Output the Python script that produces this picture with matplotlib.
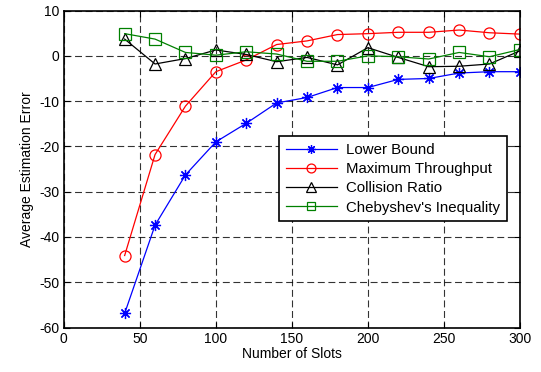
import numpy as np
import matplotlib
matplotlib.use('Agg')
import matplotlib.pyplot as plt

plt.rcParams['font.family'] = ['Liberation Sans', 'DejaVu Sans']
plt.rcParams['axes.unicode_minus'] = False
plt.rcParams['lines.scale_dashes'] = False

# Estimation error per frame size
slots = [40, 60, 80, 100, 120, 140, 160, 180, 200, 220, 240, 260, 280, 300]
lower_bound = [-56.9, -37.4, -26.3, -19.0, -14.9, -10.4, -9.2, -7.0, -7.0, -5.2, -5.0, -3.8, -3.5, -3.5]
max_throughput = [-44.1, -21.8, -11.1, -3.5, -0.9, 2.5, 3.3, 4.7, 4.9, 5.2, 5.2, 5.7, 5.1, 4.8]
collision_ratio = [3.7, -1.8, -0.6, 1.3, 0.3, -1.3, -0.35, -2.0, 1.8, -0.35, -2.4, -2.3, -1.8, 1.1]
chebyshev = [4.9, 3.7, 0.75, 0.15, 0.9, 0.4, -1.2, -1.2, 0.0, -0.2, -0.7, 0.75, -0.2, 1.4]

x_ticks = [0, 50, 100, 150, 200, 250, 300]
y_ticks = [-60, -50, -40, -30, -20, -10, 0, 10]

fig = plt.figure(figsize=(5.41, 3.72), dpi=100)
ax = fig.add_axes([0.118, 0.1196, 0.843, 0.852])

ax.plot(slots, lower_bound, color='#0000ff', lw=0.9, marker=(8, 2, 0),
        ms=8, mew=0.9, label='Lower Bound')
ax.plot(slots, max_throughput, color='#ff0000', lw=0.9, marker='o',
        ms=8, mfc='none', mew=0.9, label='Maximum Throughput')
ax.plot(slots, collision_ratio, color='black', lw=0.9, marker='^',
        ms=8.5, mfc='none', mew=0.9, label='Collision Ratio')
ax.plot(slots, chebyshev, color='#008000', lw=0.9, marker='s',
        ms=8, mfc='none', mew=0.9, label="Chebyshev's Inequality")

ax.set_xlim(0, 300)
ax.set_ylim(-60, 10)
ax.set_xticks(x_ticks)
ax.set_yticks(y_ticks)
ax.tick_params(direction='in', length=4, width=0.8, top=True, right=True,
               labelsize=10, pad=3)
ax.grid(True, color='black', ls=(0, (5, 2.6)), lw=0.8, alpha=0.8)
for s in ax.spines.values():
    s.set_linewidth(1.2)

ax.set_xlabel('Number of Slots', fontsize=10, labelpad=1)
ax.set_ylabel('Average Estimation Error', fontsize=10, labelpad=4)

leg = ax.legend(loc='upper right', bbox_to_anchor=(0.971, 0.604),
                borderaxespad=0, fancybox=False, framealpha=1,
                edgecolor='black', fontsize=10.8, handlelength=3.4,
                markerscale=0.8, labelspacing=0.35, borderpad=0.45,
                handletextpad=0.6)
leg.get_frame().set_linewidth(1.2)

fig.savefig('out.png', dpi=100)
